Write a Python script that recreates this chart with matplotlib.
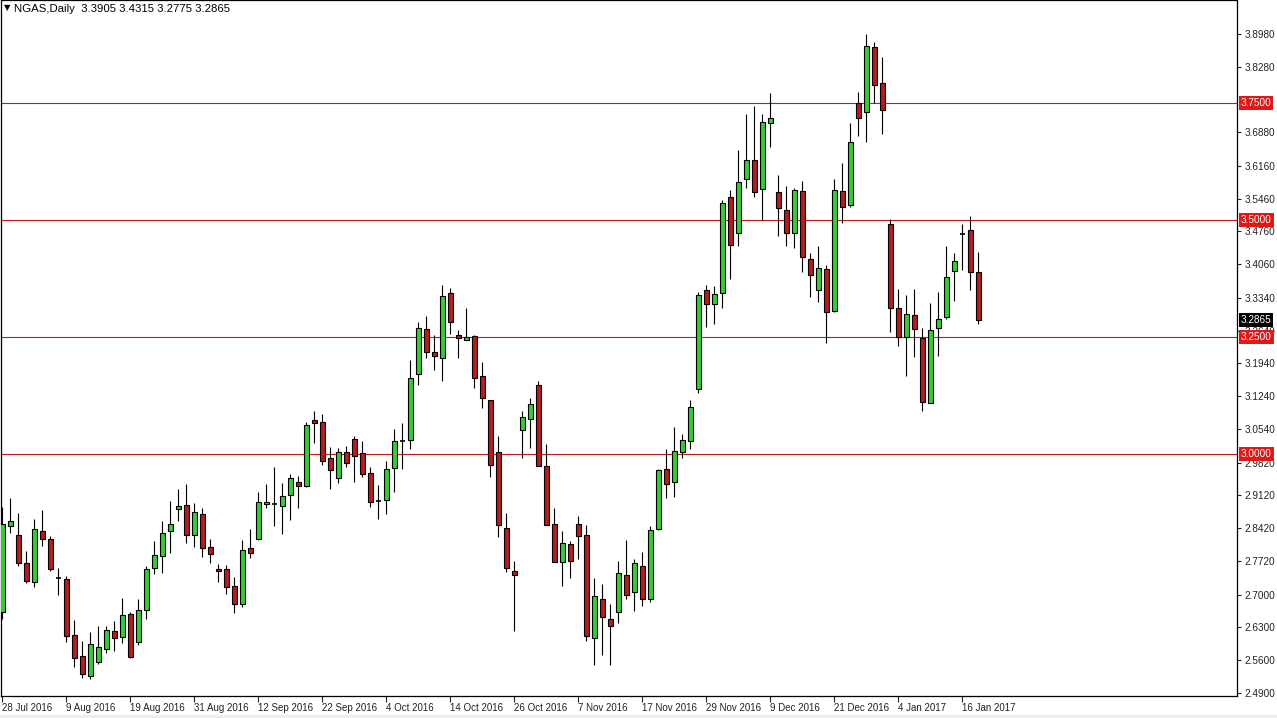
import matplotlib
matplotlib.use('Agg')
import matplotlib.pyplot as plt
from matplotlib.patches import Rectangle
from matplotlib.transforms import blended_transform_factory
import numpy as np

# NGAS daily, 28 Jul 2016 .. 18 Jan 2017 (one entry per bar)
opens = [2.664, 2.846, 2.827, 2.767, 2.728, 2.836, 2.818, 2.735, 2.733, 2.614,
         2.568, 2.526, 2.556, 2.584, 2.622, 2.609, 2.659, 2.599, 2.667, 2.756,
         2.783, 2.835, 2.882, 2.892, 2.827, 2.872, 2.801, 2.755, 2.754, 2.718,
         2.679, 2.799, 2.819, 2.893, 2.894, 2.889, 2.913, 2.940, 2.932, 3.073,
         3.068, 2.991, 2.949, 3.004, 3.033, 3.002, 2.959, 2.901, 2.902, 2.970,
         3.029, 3.030, 3.172, 3.267, 3.218, 3.205, 3.344, 3.254, 3.244, 3.253,
         3.167, 3.115, 3.004, 2.842, 2.751, 3.051, 3.075, 3.147, 2.974, 2.850,
         2.769, 2.808, 2.850, 2.827, 2.607, 2.691, 2.647, 2.662, 2.741, 2.705,
         2.761, 2.691, 2.840, 2.968, 2.940, 3.004, 3.028, 3.139, 3.352, 3.322,
         3.344, 3.549, 3.472, 3.588, 3.628, 3.566, 3.707, 3.561, 3.523, 3.472,
         3.562, 3.417, 3.352, 3.396, 3.307, 3.563, 3.533, 3.750, 3.732, 3.870,
         3.793, 3.492, 3.312, 3.250, 3.298, 3.249, 3.110, 3.269, 3.294, 3.392,
         3.470, 3.479, 3.3905]
highs = [2.888, 2.907, 2.874, 2.794, 2.862, 2.881, 2.825, 2.758, 2.740, 2.646,
         2.601, 2.620, 2.632, 2.634, 2.644, 2.693, 2.664, 2.690, 2.761, 2.815,
         2.857, 2.900, 2.925, 2.936, 2.895, 2.885, 2.820, 2.765, 2.763, 2.737,
         2.817, 2.840, 2.919, 2.936, 2.973, 2.938, 2.957, 2.954, 3.068, 3.093,
         3.086, 3.016, 3.013, 3.018, 3.039, 3.028, 2.973, 2.934, 2.986, 3.054,
         3.066, 3.201, 3.283, 3.295, 3.255, 3.362, 3.355, 3.266, 3.312, 3.255,
         3.197, 3.115, 3.038, 2.874, 2.772, 3.092, 3.120, 3.157, 3.023, 2.886,
         2.836, 2.815, 2.869, 2.849, 2.736, 2.722, 2.680, 2.772, 2.817, 2.776,
         2.791, 2.847, 2.969, 3.011, 3.058, 3.043, 3.116, 3.346, 3.362, 3.360,
         3.543, 3.565, 3.650, 3.727, 3.744, 3.727, 3.773, 3.597, 3.574, 3.568,
         3.584, 3.429, 3.445, 3.404, 3.588, 3.622, 3.707, 3.775, 3.898, 3.880,
         3.848, 3.503, 3.353, 3.340, 3.353, 3.269, 3.323, 3.347, 3.445, 3.429,
         3.491, 3.509, 3.4315]
lows = [2.647, 2.832, 2.761, 2.724, 2.717, 2.805, 2.751, 2.699, 2.599, 2.545,
        2.523, 2.519, 2.552, 2.575, 2.580, 2.597, 2.564, 2.592, 2.647, 2.744,
        2.746, 2.790, 2.858, 2.811, 2.802, 2.780, 2.767, 2.726, 2.701, 2.660,
        2.673, 2.778, 2.817, 2.885, 2.847, 2.829, 2.860, 2.886, 2.929, 3.025,
        2.976, 2.926, 2.939, 2.973, 2.940, 2.951, 2.888, 2.861, 2.872, 2.919,
        2.969, 3.011, 3.149, 3.205, 3.179, 3.157, 3.257, 3.205, 3.244, 3.141,
        3.098, 2.951, 2.823, 2.749, 2.622, 2.991, 3.013, 2.974, 2.849, 2.769,
        2.719, 2.736, 2.776, 2.602, 2.550, 2.571, 2.550, 2.639, 2.690, 2.666,
        2.676, 2.685, 2.838, 2.907, 2.909, 2.993, 3.011, 3.130, 3.273, 3.278,
        3.312, 3.374, 3.446, 3.570, 3.550, 3.501, 3.657, 3.467, 3.444, 3.440,
        3.390, 3.337, 3.326, 3.237, 3.303, 3.494, 3.529, 3.681, 3.668, 3.750,
        3.684, 3.262, 3.232, 3.168, 3.208, 3.093, 3.109, 3.211, 3.289, 3.328,
        3.394, 3.351, 3.2775]
closes = [2.852, 2.857, 2.768, 2.730, 2.840, 2.818, 2.755, 2.735, 2.612, 2.565,
          2.530, 2.595, 2.588, 2.624, 2.607, 2.657, 2.567, 2.667, 2.754, 2.784,
          2.831, 2.852, 2.889, 2.827, 2.876, 2.799, 2.786, 2.751, 2.717, 2.679,
          2.795, 2.788, 2.897, 2.898, 2.894, 2.911, 2.949, 2.932, 3.063, 3.066,
          2.985, 2.966, 3.004, 2.982, 2.997, 2.957, 2.897, 2.901, 2.968, 3.028,
          3.029, 3.164, 3.269, 3.219, 3.209, 3.338, 3.282, 3.248, 3.250, 3.162,
          3.120, 2.976, 2.849, 2.756, 2.741, 3.079, 3.107, 2.974, 2.849, 2.770,
          2.810, 2.773, 2.825, 2.611, 2.698, 2.652, 2.634, 2.746, 2.699, 2.767,
          2.690, 2.838, 2.966, 2.936, 3.006, 3.030, 3.100, 3.340, 3.322, 3.342,
          3.536, 3.447, 3.582, 3.628, 3.560, 3.711, 3.718, 3.526, 3.472, 3.564,
          3.421, 3.382, 3.399, 3.305, 3.564, 3.529, 3.667, 3.719, 3.872, 3.789,
          3.736, 3.313, 3.250, 3.299, 3.267, 3.112, 3.266, 3.288, 3.378, 3.413,
          3.470, 3.389, 3.2865]

date_labels = ['28 Jul 2016', '9 Aug 2016', '19 Aug 2016', '31 Aug 2016',
               '12 Sep 2016', '22 Sep 2016', '4 Oct 2016', '14 Oct 2016',
               '26 Oct 2016', '7 Nov 2016', '17 Nov 2016', '29 Nov 2016',
               '9 Dec 2016', '21 Dec 2016', '4 Jan 2017', '16 Jan 2017']
label_every = 8

# right-hand scale (the one under the 3.7500 marker is hidden in the source)
price_ticks = [3.898, 3.828, 3.688, 3.616, 3.546, 3.476, 3.406, 3.334,
               3.264, 3.194, 3.124, 3.054, 2.982, 2.912, 2.842, 2.772, 2.700,
               2.630, 2.560, 2.490]
level_lines = [3.75, 3.50, 3.25, 3.00]
last_price = 3.2865
header = 'NGAS,Daily  3.3905 3.4315 3.2775 3.2865'

bull = '#3cc83c'
bear = '#b01e1e'
line_red = '#c41818'
font = ['Liberation Sans', 'DejaVu Sans']
plt.rcParams['font.family'] = font

W, H = 1277, 718
fig = plt.figure(figsize=(W / 100, H / 100), dpi=100)
ax = fig.add_axes([0.5 / W, 22 / H, 1236.5 / W, 696 / H])

o = np.array(opens); h = np.array(highs); l = np.array(lows); c = np.array(closes)
x = np.arange(len(o))
up = c > o
down = c < o
flat = c == o

ax.vlines(x, l, h, color='black', linewidth=0.8, zorder=2)
ax.bar(x[up], (c - o)[up], bottom=o[up], width=0.62, color=bull,
       edgecolor='black', linewidth=0.8, zorder=3)
ax.bar(x[down], (o - c)[down], bottom=c[down], width=0.62, color=bear,
       edgecolor='black', linewidth=0.8, zorder=3)
ax.hlines(o[flat], x[flat] - 0.31, x[flat] + 0.31, color='black',
          linewidth=1.2, zorder=3)

for lv in level_lines:
    ax.axhline(lv, color=line_red, linewidth=0.8, zorder=1)

ax.set_xlim(-0.25, 154.375)
ax.set_ylim(3.97065 - 696 / 468, 3.97065)

for s in ax.spines.values():
    s.set_linewidth(0.9)
    s.set_color('black')

ax.yaxis.tick_right()
ax.set_yticks(price_ticks)
ax.set_yticklabels([f'{v:.4f}' for v in price_ticks])
ax.tick_params(axis='y', direction='out', length=3, width=0.8, pad=2.5,
               labelsize=7.2, colors='#222222')

ax.set_xticks(np.arange(len(date_labels)) * label_every)
ax.set_xticklabels(date_labels)
ax.tick_params(axis='x', direction='out', length=4, width=0.8, pad=1,
               labelsize=7, colors='#222222')
for t in ax.get_xticklabels():
    t.set_ha('left')

tr = blended_transform_factory(ax.transAxes, ax.transData)
for lv in level_lines:
    ax.text(1.003, lv, f'{lv:.4f}', transform=tr, ha='left', va='center',
            fontsize=7.2, color='white', clip_on=False, zorder=5,
            bbox=dict(boxstyle='square,pad=0.2', fc='#e01818', ec='none'))
ax.text(1.003, last_price, f'{last_price:.4f}', transform=tr, ha='left',
        va='center', fontsize=7.2, color='white', clip_on=False, zorder=6,
        bbox=dict(boxstyle='square,pad=0.2', fc='black', ec='none'))

fig.text(4 / W, 1 - 8 / H, '\u25bc', fontsize=6, va='center', ha='left',
         family=['DejaVu Sans'])
fig.text(14 / W, 1 - 8.5 / H, header, fontsize=8.2, va='center', ha='left')

fig.patches.append(Rectangle((0, 0), 1, 3 / H, transform=fig.transFigure,
                             color='#eeeeee', zorder=0))

fig.savefig('out.png', dpi=100)
